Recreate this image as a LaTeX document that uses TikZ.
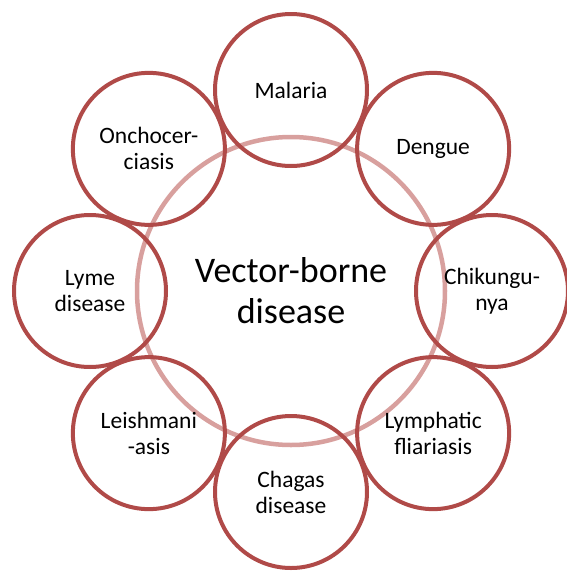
\documentclass[tikz,border=0pt]{standalone}
\usepackage{fontspec}
\setmainfont{Carlito}
\usepackage{tikz}
\usetikzlibrary{calc,positioning}
\definecolor{VBrojo}{RGB}{176, 74, 72}
\definecolor{VBrosa}{RGB}{216,160,158}
\tikzset{
  hubnode/.style={circle,draw=VBrosa,line width=4.5pt,minimum size=308pt,
                  align=center,font=\fontsize{36}{41}\selectfont},
  vecnode/.style={circle,draw=VBrojo,line width=4pt,minimum size=152pt,
                  align=center,font=\fontsize{23.5}{26}\selectfont}
}

\begin{document}
\begin{tikzpicture}[x=1pt,y=-1pt]
\useasboundingbox (0,0) rectangle (567,571);
\node[hubnode] (hub) at (291,291) {Vector-borne\\disease};
\foreach \ang/\nm/\txt in {90/mal/Malaria, 45/den/Dengue, 0/chi/{Chikungu-\\nya},
    -45/lym/{Lymphatic\\fliariasis}, -90/cha/{Chagas\\disease},
    -135/lei/{Leishmani\\-asis}, 180/lyd/{Lyme\\disease},
    135/onc/{Onchocer-\\ciasis}}
  \node[vecnode] (\nm) at ($(hub)+(\ang:201pt)$) {\txt};
\end{tikzpicture}
\end{document}
